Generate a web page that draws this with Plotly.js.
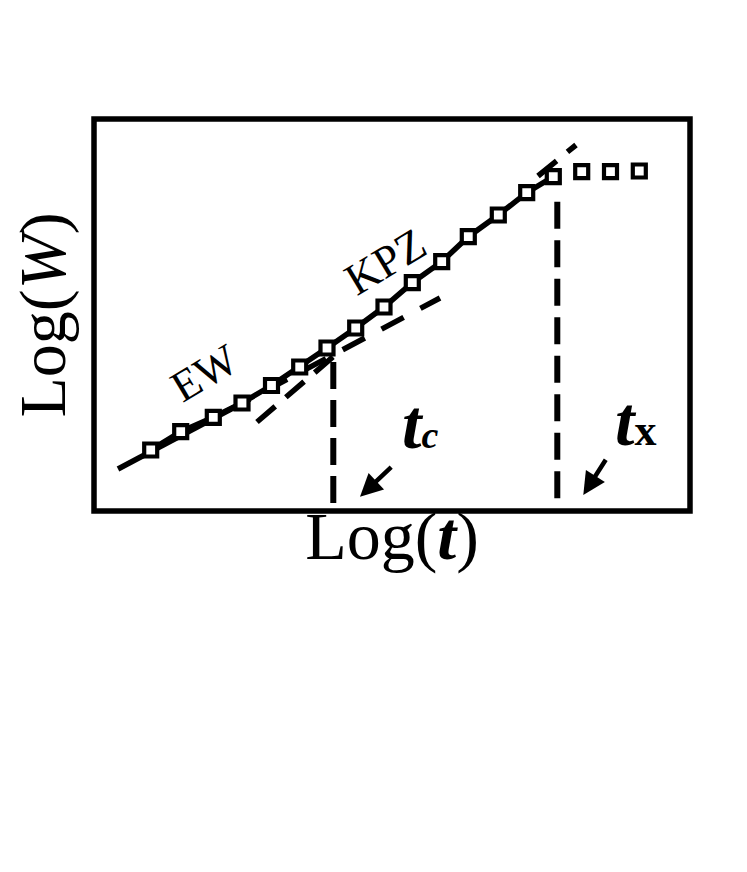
<!DOCTYPE html>
<html>
<head>
<meta charset="utf-8">
<script src="https://cdn.plot.ly/plotly-3.0.1.min.js"></script>
<style>
  html, body { margin: 0; padding: 0; background: #fff; }
  #chart { width: 747px; height: 872px; }
</style>
</head>
<body>
<div id="chart"></div>
<script>
// ---- data (arbitrary log units read from the schematic) ----
const logT = [5.67, 8.67, 11.93, 14.8, 17.75, 20.57, 23.3, 26.17, 29.0, 31.83, 34.77, 37.43, 40.43, 43.27, 45.93, 48.77, 51.65, 54.53];
const logW = [6.1, 7.93, 9.37, 10.8, 12.55, 14.4, 16.3, 18.3, 20.4, 22.83, 24.93, 27.43, 29.6, 31.83, 33.43, 33.93, 33.93, 34.0];
const growthCount = 15;

// EW fit (solid part then dashed extension)
const ewSolidT = [2.4, 15.6];
const ewSolidW = [4.2, 11.2];
const ewDashT = [17.1, 34.6];
const ewDashW = [12.0, 21.3];

// KPZ fit (dashed back-extension and forward extension)
const kpzDashT = [16.3, 24.0];
const kpzDashW = [8.9, 15.5];
const kpzExtT = [44.4, 48.2];
const kpzExtW = [33.5, 36.6];

// crossover times
const tc = 23.93;
const tx = 46.33;
const tcLineW = [14.9, 0.6];
const txLineW = [30.93, 0.93];

const black = '#000';

const traces = [
  { x: ewSolidT, y: ewSolidW, mode: 'lines', line: { color: black, width: 5.5 }, hoverinfo: 'skip' },
  { x: ewDashT, y: ewDashW, mode: 'lines', line: { color: black, width: 5.5, dash: '25px,19px' }, hoverinfo: 'skip' },
  { x: kpzDashT, y: kpzDashW, mode: 'lines', line: { color: black, width: 5.5, dash: '24px,14px' }, hoverinfo: 'skip' },
  { x: logT.slice(0, growthCount), y: logW.slice(0, growthCount), mode: 'lines', line: { color: black, width: 5.5 }, hoverinfo: 'skip' },
  { x: kpzExtT, y: kpzExtW, mode: 'lines', line: { color: black, width: 5.5, dash: '24px,14px' }, hoverinfo: 'skip' },
  { x: [tc, tc], y: tcLineW, mode: 'lines', line: { color: black, width: 6, dash: '27px,11px' }, hoverinfo: 'skip' },
  { x: [tx, tx], y: txLineW, mode: 'lines', line: { color: black, width: 6, dash: '27px,11.5px' }, hoverinfo: 'skip' },
  { x: logT, y: logW, mode: 'markers',
    marker: { symbol: 'square', size: 13, color: '#fff', line: { color: black, width: 4.2 } },
    hoverinfo: 'skip' }
];

const serif = 'Liberation Serif, Times New Roman, serif';

const layout = {
  width: 747, height: 872,
  paper_bgcolor: '#fff', plot_bgcolor: '#fff',
  showlegend: false,
  margin: { l: 94, r: 57, t: 119, b: 361, pad: 0 },
  font: { family: serif, color: black },
  xaxis: {
    range: [0, 59.6], showgrid: false, zeroline: false, showticklabels: false, ticks: '',
    showline: false, fixedrange: true,
    title: { text: 'Log(<b><i>t</i></b>)', font: { family: serif, size: 68, color: black }, standoff: 0 }
  },
  yaxis: {
    range: [0, 39.2], showgrid: false, zeroline: false, showticklabels: false, ticks: '',
    showline: false, fixedrange: true,
    title: { text: 'Log(<i>W</i>)', font: { family: serif, size: 66, color: black }, standoff: 5 }
  },
  shapes: [
    { type: 'rect', xref: 'paper', yref: 'paper', x0: 0, x1: 1, y0: 0, y1: 1,
      line: { color: black, width: 5.5 }, fillcolor: 'rgba(0,0,0,0)', layer: 'above' }
  ],
  annotations: [
    { x: 11.0, y: 13.8, xref: 'x', yref: 'y', text: 'EW', showarrow: false, textangle: -31,
      font: { family: serif, size: 44, color: black } },
    { x: 29.1, y: 24.9, xref: 'x', yref: 'y', text: 'KPZ', showarrow: false, textangle: -31,
      font: { family: serif, size: 45, color: black } },
    { x: 30.6, y: 8.7, xref: 'x', yref: 'y', xanchor: 'left', yanchor: 'middle', showarrow: false,
      text: '<b><i>t</i></b><b><i><span style="font-size:38px">c</span></i></b>',
      font: { family: serif, size: 70, color: black } },
    { x: 51.9, y: 9.0, xref: 'x', yref: 'y', xanchor: 'left', yanchor: 'middle', showarrow: false,
      text: '<b><i>t</i></b><b><span style="font-size:44px">x</span></b>',
      font: { family: serif, size: 70, color: black } },
    { x: 26.6, y: 1.43, ax: 29.87, ay: 4.53, xref: 'x', yref: 'y', axref: 'x', ayref: 'y',
      text: '', showarrow: true, arrowhead: 2, arrowsize: 1, arrowwidth: 4.5, arrowcolor: black },
    { x: 48.93, y: 1.6, ax: 51.27, ay: 5.27, xref: 'x', yref: 'y', axref: 'x', ayref: 'y',
      text: '', showarrow: true, arrowhead: 2, arrowsize: 1, arrowwidth: 4.5, arrowcolor: black }
  ]
};

Plotly.newPlot('chart', traces, layout, { displayModeBar: false, staticPlot: true });
</script>
</body>
</html>
